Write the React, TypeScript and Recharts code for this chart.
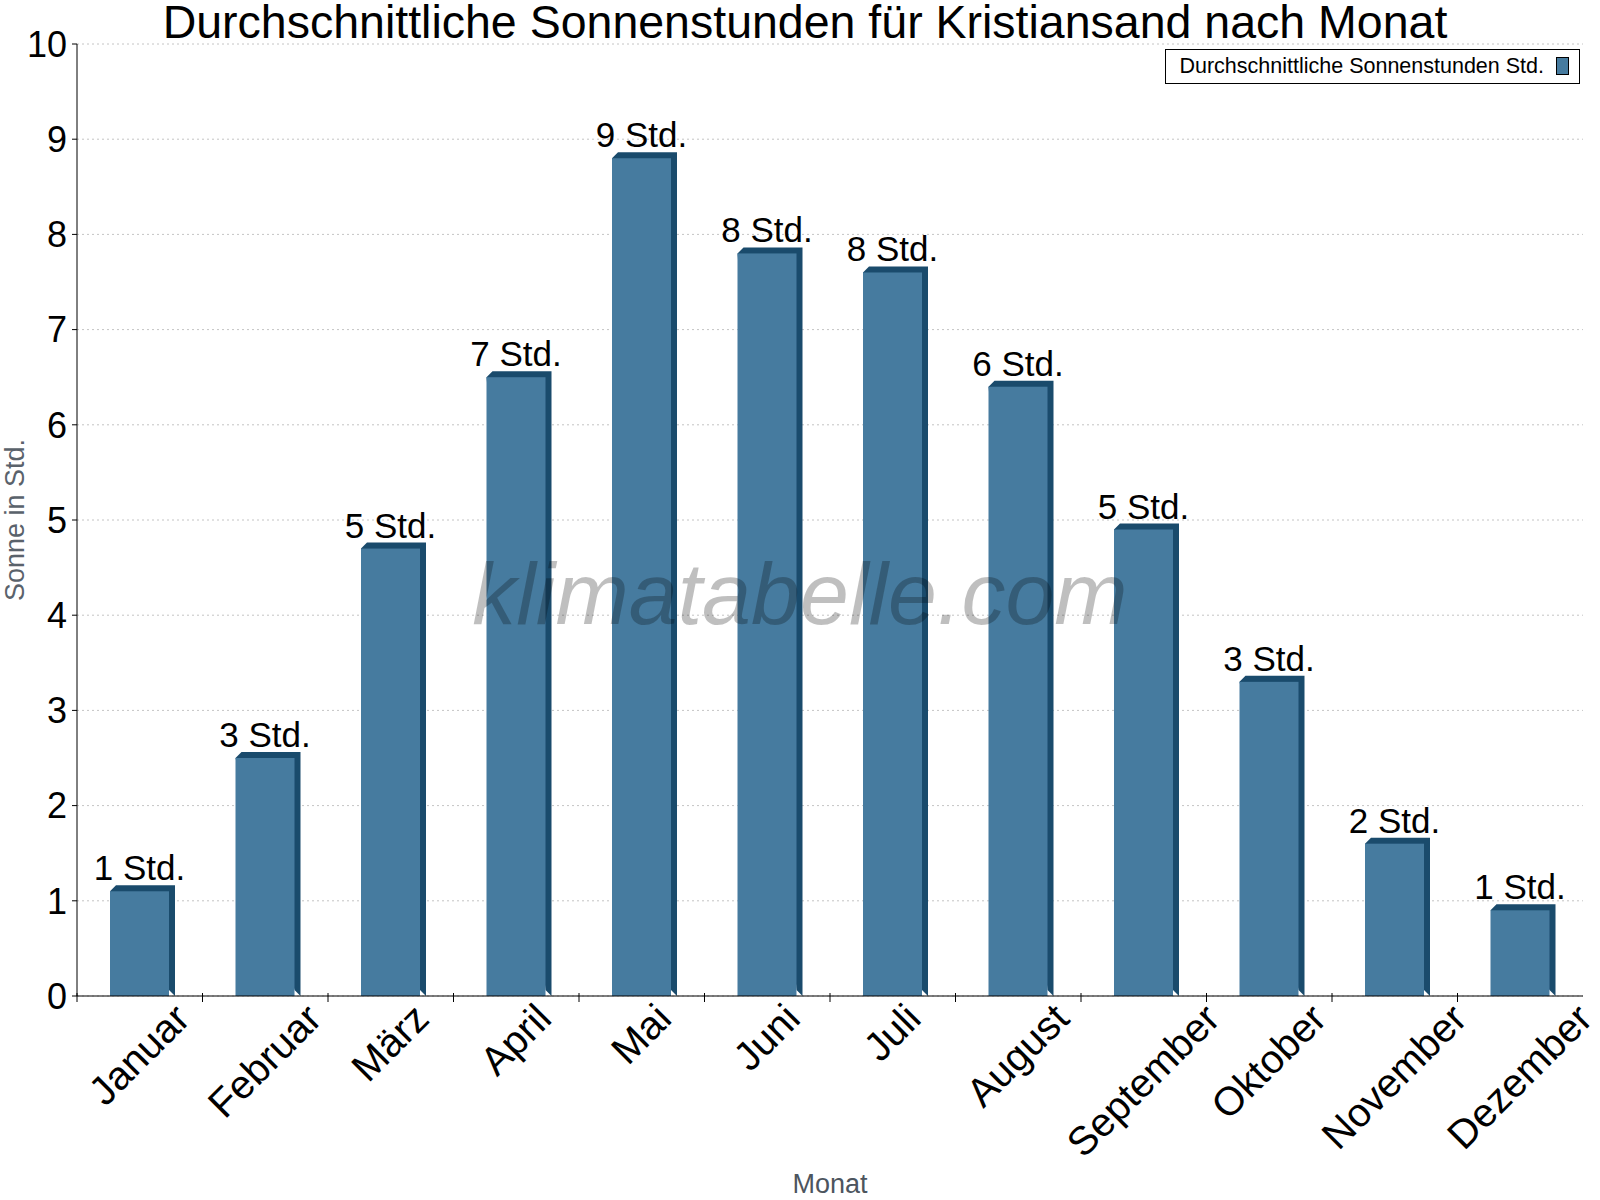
import React from "react";
import { BarChart, Bar, XAxis, YAxis, CartesianGrid, Legend, LabelList } from "recharts";

const months = ["Januar", "Februar", "März", "April", "Mai", "Juni", "Juli", "August", "September", "Oktober", "November", "Dezember"];
const sunHours = [1.1, 2.5, 4.7, 6.5, 8.8, 7.8, 7.6, 6.4, 4.9, 3.3, 1.6, 0.9];
const sunLabels = ["1 Std.", "3 Std.", "5 Std.", "7 Std.", "9 Std.", "8 Std.", "8 Std.", "6 Std.", "5 Std.", "3 Std.", "2 Std.", "1 Std."];
const yTicks = [0, 1, 2, 3, 4, 5, 6, 7, 8, 9, 10];

const seriesName = "Durchschnittliche Sonnenstunden Std.";
const font = "'Liberation Sans', Arial, sans-serif";
const front = "#467b9f";
const dark = "#1a4b6c";
const monthFontSize = 40;

const data = months.map((m, i) => ({ month: m, sun: sunHours[i], label: sunLabels[i] }));

let measureCtx: CanvasRenderingContext2D | null = null;
function textWidth(s: string, size: number) {
    if (!measureCtx) measureCtx = document.createElement("canvas").getContext("2d");
    if (!measureCtx) return s.length * size * 0.55;
    measureCtx.font = `${size}px ${font}`;
    return measureCtx.measureText(s).width;
}

// front face + darker top/side to fake the 3d look
function Bar3D(props: any) {
    const { x, y, width, height } = props;
    const d = 6;
    const pts = `${x},${y} ${x + d},${y - d} ${x + width + d},${y - d} ${x + width + d},${y + height} ${x + width},${y + height - d}`;
    return <g>
        <polygon points={pts} fill={dark} />
        <rect x={x} y={y} width={width} height={height} fill={front} />
    </g>
}

// labels are centred on the category, rotated -45, their end sitting just under the axis
function MonthTick(props: any) {
    const { x, y, payload } = props;
    const off = payload.offset ?? 0;
    const half = textWidth(String(payload.value), monthFontSize) / 2 * Math.SQRT1_2;
    const tx = x + 9;
    const ty = y + 19 + half;
    return <g>
        <line x1={x - off} x2={x - off} y1={y - 9} y2={y} stroke="#000" />
        <text x={tx} y={ty} textAnchor="middle" transform={`rotate(-45 ${tx} ${ty})`}
            fontSize={monthFontSize} fontFamily={font} fill="#000">{payload.value}</text>
    </g>
}

function TopLabel(props: any) {
    const { x, y, width, value } = props;
    return <text x={x + width / 2} y={y - 11} textAnchor="middle" fontSize={35} fontFamily={font} fill="#000">{value}</text>
}

function LegendBox() {
    return <div style={{ border: "1px solid #000", background: "#fff", padding: "4px 10px 5px 13px", display: "flex", alignItems: "center", fontFamily: font, fontSize: 21.5, lineHeight: "24px" }}>
        <span>{seriesName}</span>
        <span style={{ display: "inline-block", width: 11, height: 16, background: front, border: "1px solid #000", marginLeft: 12 }} />
    </div>
}

export default function App() {
    return <div style={{ position: "absolute", left: 0, top: 0, width: 1600, height: 1200, background: "#fff" }}>
        <BarChart width={1600} height={1200} data={data} margin={{ top: 44, right: 17, bottom: 54, left: 17 }} barSize={59}>
            <CartesianGrid vertical={false} stroke="#c4c4c4" strokeDasharray="2 3" />
            <XAxis dataKey="month" height={150} interval={0} axisLine={{ stroke: "#000" }} tickLine={false}
                tickSize={6} tickMargin={0} tick={<MonthTick />} />
            <YAxis width={60} domain={[0, 10]} ticks={yTicks} interval={0} axisLine={{ stroke: "#000" }}
                tickLine={{ stroke: "#000" }} tickSize={5} tickMargin={5}
                tick={{ fontSize: 36, fontFamily: font, fill: "#000" }} />
            <YAxis yAxisId="r" orientation="right" width={0} domain={[0, 10]} tick={false} tickLine={false} axisLine={{ stroke: "#000" }} />
            <Legend layout="horizontal" verticalAlign="middle" align="center"
                wrapperStyle={{ top: 49, right: 20, left: "auto", bottom: "auto", width: "auto" }} content={<LegendBox />} />
            <Bar dataKey="sun" name={seriesName} fill={front} shape={<Bar3D />} isAnimationActive={false}>
                <LabelList dataKey="label" content={<TopLabel />} />
            </Bar>
        </BarChart>
        <svg width={1600} height={1200} style={{ position: "absolute", left: 0, top: 0, pointerEvents: "none" }}>
            <text x={805} y={38} textAnchor="middle" fontSize={46.5} fontFamily={font} fill="#000">
                Durchschnittliche Sonnenstunden für Kristiansand nach Monat
            </text>
            <text x={24} y={520} textAnchor="middle" transform="rotate(-90 24 520)" fontSize={27} fontFamily={font} fill="#5a626b">Sonne in Std.</text>
            <text x={830} y={1193} textAnchor="middle" fontSize={27} fontFamily={font} fill="#4d555e">Monat</text>
            <text x={800} y={624} textAnchor="middle" fontSize={88} fontStyle="italic" fontFamily={font} fill="rgba(0,0,0,0.25)">klimatabelle.com</text>
        </svg>
    </div>
}
